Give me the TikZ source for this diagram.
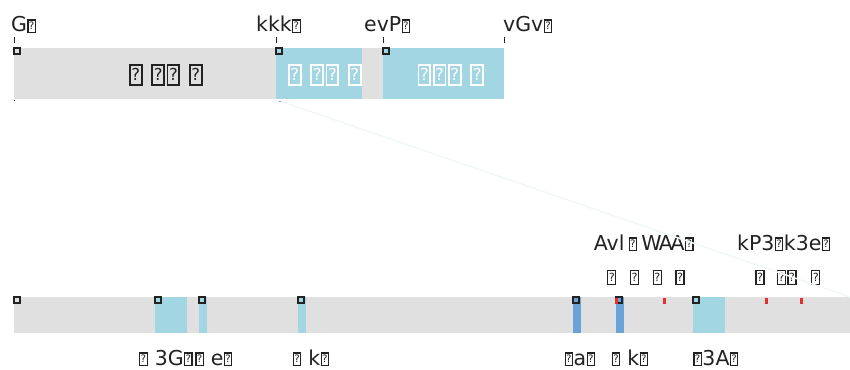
\documentclass[tikz,border=0pt]{standalone}
\usepackage{fontspec}
\setmainfont{DejaVu Sans}
\usepackage{tikz}
\usetikzlibrary{positioning}
\definecolor{bargray}{RGB}{224, 224, 224}
\definecolor{segblue}{RGB}{162, 214, 227}
\definecolor{segdark}{RGB}{106, 163, 216}
\definecolor{flagred}{RGB}{232, 48, 42}
\definecolor{inkdark}{RGB}{34, 34, 34}
\definecolor{zoomfaint}{RGB}{241, 246, 247}
% boxed glyph as printed in the reference
\newcommand{\miss}{\kern0.02em\begingroup\setlength{\fboxsep}{0pt}\setlength{\fboxrule}{0.055em}\fbox{\makebox[0.3em]{\rule{0pt}{0.56em}\raisebox{0.12em}{\scalebox{0.5}{?}}}}\endgroup\kern0.03em}

\begin{document}
\begin{tikzpicture}[x=1pt, y=-1pt,
  seg/.style={anchor=north west, inner sep=0pt, outer sep=0pt, draw=none},
  marker/.style={anchor=north west, draw=inkdark, line width=1.3pt, minimum size=6pt, inner sep=0pt, outer sep=0pt},
  flag/.style={anchor=north west, fill=flagred, minimum width=3pt, minimum height=6pt, inner sep=0pt, outer sep=0pt},
  tickmark/.style={draw=inkdark, line width=1pt},
  lbl/.style={anchor=base, inner sep=0pt, text=inkdark, font=\fontsize{20.5}{24}\selectfont},
  boxrow/.style={lbl, font=\fontsize{22.5}{26}\selectfont},
  bartext/.style={inner sep=0pt, font=\fontsize{33}{38}\selectfont}]
  \useasboundingbox (0,0) rectangle (850,369);

  % top bar
  \node[seg, fill=bargray, minimum width=262pt, minimum height=51pt] (t1) at (14,48) {};
  \node[seg, fill=segblue, minimum width=86pt, minimum height=51pt] (t2) at (276,48) {};
  \node[seg, fill=bargray, minimum width=21pt, minimum height=51pt] (t2g) at (362,48) {};
  \node[seg, fill=segblue, minimum width=121pt, minimum height=51pt] (t3) at (383,48) {};

  \node[bartext, text=inkdark] (t1txt) at (166,75) {\miss\hspace{0.22em}\miss\miss\hspace{0.22em}\miss};
  \node[bartext, text=white] (t2txt) at (325,75) {\miss\hspace{0.22em}\miss\miss\hspace{0.22em}\miss};
  \node[bartext, text=white] (t3txt) at (451,75) {\miss\miss\miss\hspace{0.22em}\miss};

  \foreach \s in {t1, t2, t3}
    \node[marker] at (\s.north west) {};

  % ticks and top labels
  \draw[tickmark] (t1.north west) ++(0,-5) -- ++(0,-6);
  \draw[tickmark] (t2.north west) ++(0,-5) -- ++(0,-6);
  \draw[tickmark] (t3.north west) ++(0,-5) -- ++(0,-6);
  \draw[tickmark] (t3.north east) ++(0,-5) -- ++(0,-6);
  \node[lbl, anchor=base west] (lG) at (11,32) {G\miss};
  \node[lbl, anchor=base west] (lK) at (256,32) {kkk\miss};
  \node[lbl, anchor=base west] (lE) at (364,32) {evP\miss};
  \node[lbl, anchor=base west] (lV) at (503,32) {vGv\miss};

  % bottom bar
  \node[seg, fill=bargray, minimum width=836pt, minimum height=36pt] (b0) at (14,297) {};
  \node[seg, fill=segblue, minimum width=32pt, minimum height=36pt] (b1) at (155,297) {};
  \node[seg, fill=segblue, minimum width=8pt, minimum height=36pt] (b2) at (199,297) {};
  \node[seg, fill=segblue, minimum width=8pt, minimum height=36pt] (b3) at (298,297) {};
  \node[seg, fill=segdark, minimum width=8pt, minimum height=36pt] (b4) at (573,297) {};
  \node[seg, fill=segdark, minimum width=8pt, minimum height=36pt] (b5) at (616,297) {};
  \node[seg, fill=segblue, minimum width=32pt, minimum height=36pt] (b6) at (693,297) {};

  \foreach \s in {b0, b1, b2, b3, b4, b5, b6}
    \node[marker] at (\s.north west) {};

  \node[flag] (f1) at (615,298) {};
  \node[flag] (f2) at (663,298) {};
  \node[flag] (f3) at (765,298) {};
  \node[flag] (f4) at (800,298) {};

  % labels above the bottom bar
  \node[lbl] (uA) at (644,250) {Avl\hspace{0.18em}\miss\hspace{0.18em}W\kern-0.14em A\kern-0.1em A\miss};
  \node[boxrow] (uA2) at (646,284) {\miss\hspace{0.55em}\miss\hspace{0.55em}\miss\hspace{0.55em}\miss};
  \node[lbl] (uB) at (784,250) {kP3\miss k3e\miss};
  \node[boxrow] (uB2) at (788,284) {\miss\hspace{0.5em}\miss\miss\hspace{0.6em}\miss};

  % labels below the bottom bar
  \node[lbl] (dA) at (166,365) {\miss\ 3G\miss};
  \node[lbl] (dB) at (214,365) {\miss\ e\miss};
  \node[lbl] (dC) at (311,365) {\miss\ k\miss};
  \node[lbl] (dD) at (580,365) {\miss a\miss};
  \node[lbl] (dE) at (630,365) {\miss\ k\miss};
  \node[lbl] (dF) at (716,365) {\miss 3A\miss};

  % faint zoom link
  \coordinate (zA) at (280,101);
  \draw[zoomfaint, line width=1.5pt] (zA) -- (b0.north east);
  \fill[inkdark] (13.5,99.5) rectangle (15,101);
  \fill[black!40] (279,100.5) rectangle (281,101.5);
\end{tikzpicture}
\end{document}
